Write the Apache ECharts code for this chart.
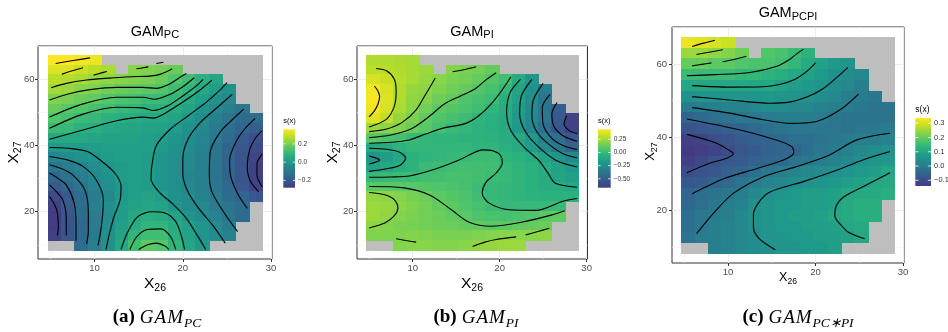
<!DOCTYPE html>
<html>
<head>
<meta charset="utf-8">
<title>GAM partial effects of X26 and X27</title>
<script src="https://cdn.jsdelivr.net/npm/echarts@6.0.0/dist/echarts.min.js"></script>
<style>
  html, body { margin: 0; padding: 0; background: #fff; }
  #chart { width: 948px; height: 332px; }
</style>
</head>
<body>
<div id="chart"></div>
<script>
const _ = null

// centres of the sampled grid (data units)
const x26Cells = [5.50, 7.02, 8.54, 10.06, 11.58, 13.09, 14.61, 16.13, 17.65, 19.17, 20.69, 22.21, 23.73, 25.25, 26.77, 28.28]
// top row first
const x27Cells = [65.83, 62.88, 59.93, 56.98, 54.03, 51.08, 48.13, 45.18, 42.23, 39.28, 36.33, 33.38, 30.43, 27.48, 24.53, 21.58, 18.63, 15.68, 12.73, 9.78]

// s(x) x 100, rows top to bottom, null = no data (grey)
const sPC = [
  [36, 36, 35, 34, _, _, _, _, _, _, _, _, _, _, _, _],
  [32, 32, 30, 28, 26, _, 22, 21, 20, 18, _, _, _, _, _, _],
  [28, 27, 26, 24, 23, 22, 21, 20, 18, 15, 12, 8, 4, _, _, _],
  [25, 24, 22, 21, 19, 18, 17, 16, 15, 12, 9, 5, 1, -2, _, _],
  [21, 20, 18, 17, 15, 14, 13, 11, 11, 9, 6, 2, -2, -5, _, _],
  [18, 16, 15, 13, 12, 10, 9, 8, 8, 6, 3, -1, -5, -8, -11, _],
  [15, 13, 11, 10, 8, 7, 6, 5, 5, 3, 0, -4, -8, -11, -14, -14],
  [11, 10, 8, 7, 5, 4, 4, 3, 3, 1, -2, -5, -9, -13, -16, -18],
  [5, 5, 5, 4, 3, 3, 3, 2, 1, -1, -3, -6, -10, -14, -19, -22],
  [0, 1, 1, 1, 2, 2, 2, 2, 0, -2, -4, -7, -11, -16, -20, -24],
  [-6, -4, -2, -1, 1, 2, 2, 1, -1, -3, -5, -8, -12, -16, -21, -25],
  [-11, -9, -6, -4, -1, 1, 2, 1, -1, -3, -5, -8, -12, -16, -21, -26],
  [-15, -12, -9, -5, -2, 1, 2, 1, -1, -3, -6, -8, -12, -16, -21, -26],
  [-19, -15, -11, -7, -3, 0, 2, 1, -1, -3, -5, -8, -11, -15, -20, -25],
  [-24, -19, -14, -9, -5, 0, 2, 3, 1, -2, -4, -7, -10, -14, -16, -20],
  [-26, -19, -14, -8, -3, 1, 3, 4, 3, -1, -4, -5, -9, -12, -14, _],
  [-27, -21, -14, -9, -4, 1, 5, 7, 6, 3, -1, -4, -7, -11, -14, _],
  [-27, -21, -15, -9, -4, 2, 6, 9, 9, 6, 2, -1, -5, -9, _, _],
  [-26, -21, -15, -9, -2, 3, 9, 12, 12, 7, 3, -1, -4, -7, _, _],
  [_, _, -14, -8, -2, 5, 12, 16, 15, 9, 4, 0, _, _, _, _]
]

const sPI = [
  [28, 28, 27, 26, _, _, _, _, _, _, _, _, _, _, _, _],
  [30, 30, 28, 26, 24, _, 19, 17, 15, 12, _, _, _, _, _, _],
  [36, 33, 29, 26, 23, 20, 17, 15, 12, 8, 3, -8, -20, _, _, _],
  [42, 36, 28, 23, 21, 18, 15, 12, 8, 4, -2, -12, -22, -32, _, _],
  [43, 37, 28, 22, 19, 14, 11, 7, 4, 1, -7, -15, -25, -38, _, _],
  [41, 36, 27, 20, 15, 10, 8, 5, 2, -3, -8, -16, -26, -38, -50, _],
  [38, 32, 23, 17, 11, 7, 4, 1, -3, -6, -9, -17, -27, -37, -52, -63],
  [24, 21, 18, 13, 9, 4, -1, -2, -4, -6, -9, -18, -28, -42, -53, -63],
  [9, 6, 4, 0, -2, -3, -3, -4, -4, -5, -7, -9, -19, -32, -42, -52],
  [-9, -7, -4, -2, -2, -2, -2, -2, -3, -3, -6, -9, -16, -26, -36, -48],
  [-20, -16, -11, -5, -3, -2, -1, 0, 1, 1, -3, -5, -8, -13, -20, -27],
  [-14, -11, -7, -4, 0, 1, 2, 3, 3, 2, -1, -3, -5, -8, -13, -19],
  [-1, 0, 1, 1, 2, 3, 4, 4, 3, 1, -1, -3, -5, -8, -12, -15],
  [9, 9, 9, 9, 8, 7, 6, 4, 1, -1, -2, -3, -5, -7, -8, -10],
  [22, 21, 19, 16, 13, 10, 8, 6, 2, -1, -2, -3, -4, -5, -5, -5],
  [24, 23, 21, 18, 15, 12, 10, 7, 4, 1, -1, -1, -1, -1, 0, _],
  [24, 22, 19, 17, 15, 13, 11, 9, 6, 5, 4, 6, 7, 9, 11, _],
  [21, 19, 17, 16, 15, 14, 13, 12, 11, 10, 10, 11, 12, 13, _, _],
  [18, 18, 18, 19, 18, 17, 17, 17, 18, 19, 20, 20, 20, 21, _, _],
  [_, _, 19, 20, 20, 19, 19, 20, 22, 23, 24, 24, _, _, _, _]
]

const sPCPI = [
  [32, 31, 30, 29, _, _, _, _, _, _, _, _, _, _, _, _],
  [25, 25, 24, 23, 21, _, 18, 17, 15, 13, _, _, _, _, _, _],
  [20, 20, 19, 19, 18, 17, 17, 16, 14, 11, 9, 7, 6, _, _, _],
  [15, 15, 15, 15, 14, 14, 13, 12, 10, 9, 7, 5, 4, 3, _, _],
  [10, 10, 10, 10, 10, 10, 10, 9, 8, 7, 6, 4, 3, 1, _, _],
  [5, 6, 6, 6, 6, 6, 7, 6, 6, 5, 4, 3, 1, 0, -1, _],
  [0, 1, 1, 2, 2, 3, 4, 4, 3, 3, 2, 1, 0, -1, -2, -2],
  [-5, -4, -3, -2, -1, -1, 0, 1, 1, 1, 0, -1, -2, -2, -2, -2],
  [-9, -8, -7, -6, -5, -4, -3, -2, -1, -1, -1, -1, -2, -1, -1, 0],
  [-13, -12, -10, -9, -7, -6, -5, -4, -3, -3, -2, -1, 0, 1, 1, 2],
  [-14, -13, -12, -10, -8, -7, -6, -5, -5, -3, -1, 0, 2, 3, 4, 5],
  [-13, -11, -9, -8, -7, -6, -5, -4, -2, -1, 0, 2, 3, 5, 6, 7],
  [-10, -9, -8, -6, -5, -3, -1, 1, 2, 3, 4, 5, 6, 7, 8, 10],
  [-8, -7, -5, -4, -2, 0, 2, 3, 4, 5, 6, 7, 8, 9, 10, 11],
  [-5, -3, -2, -1, 1, 3, 5, 6, 7, 8, 8, 9, 10, 11, 11, 12],
  [-4, -3, -1, 1, 2, 5, 6, 7, 7, 8, 8, 9, 11, 12, 12, _],
  [-3, -1, 0, 1, 3, 5, 6, 7, 8, 8, 9, 10, 11, 12, 12, _],
  [-3, -1, 1, 2, 3, 5, 6, 7, 7, 8, 8, 9, 10, 11, _, _],
  [-2, 0, 1, 2, 3, 4, 6, 6, 7, 7, 8, 8, 9, 10, _, _],
  [_, _, 1, 2, 3, 4, 5, 6, 6, 7, 7, 8, _, _, _, _]
]

// contour lines, [x26, x27] points
const contPC = [
  [[5.6, 64.8], [7.6, 65.7], [9.5, 66.5]],
  [[6.3, 61.6], [7.5, 62.6], [8.7, 63.5]],
  [[9.9, 61.3], [10.7, 61.9], [11.4, 62.4]],
  [[14.75, 63.2], [15.5, 63.5], [16.1, 63.8]],
  [[17.0, 64.8], [17.8, 65.2]],
  [[5.1, 57.5], [6.8, 58.8], [9.1, 59.8], [11.7, 60.4], [14.3, 60.8], [16.2, 61.0], [17.5, 61.6], [18.8, 63.2]],
  [[4.9, 53.8], [7.0, 55.6], [9.5, 56.9], [12.5, 57.6], [15.5, 57.6], [17.0, 57.3], [18.5, 58.6], [19.6, 60.5], [20.4, 61.8]],
  [[4.9, 48.6], [8.7, 52.6], [12.5, 54.6], [15.5, 54.6], [16.8, 54.0], [18.5, 55.4], [20.0, 57.8], [21.3, 60.5]],
  [[4.9, 45.2], [8.7, 49.5], [12.5, 51.6], [15.5, 51.4], [16.7, 50.6], [18.3, 52.0], [20.0, 55.0], [21.6, 58.2], [22.3, 60.0]],
  [[4.9, 41.9], [8.7, 44.7], [12.5, 47.5], [15.5, 48.6], [16.65, 48.3], [18.0, 49.8], [19.8, 52.8], [21.8, 56.5], [23.3, 59.8]],
  [[22.6, 8.6], [21.6, 13.0], [20.4, 18.0], [18.8, 22.5], [17.3, 26.0], [16.4, 30.0], [16.5, 34.0], [17.0, 40.0], [18.6, 45.0], [20.6, 49.0], [22.6, 53.0], [24.3, 57.0], [25.0, 59.0]],
  [[24.8, 10.5], [23.5, 15.5], [21.8, 21.0], [20.5, 26.5], [20.0, 31.5], [20.0, 36.0], [20.6, 42.0], [22.0, 47.0], [23.9, 51.5], [25.6, 55.5]],
  [[26.2, 14.0], [24.6, 20.0], [23.3, 26.0], [23.0, 31.0], [23.1, 38.0], [24.2, 44.0], [25.6, 47.8], [26.9, 51.0]],
  [[27.3, 21.0], [26.2, 25.5], [25.4, 31.0], [25.3, 35.5], [26.0, 41.0], [27.0, 45.0], [28.2, 48.2]],
  [[28.6, 26.0], [27.6, 29.5], [27.3, 34.0], [27.6, 39.0], [28.3, 42.5], [29.0, 44.5]],
  [[29.0, 27.5], [28.4, 31.0], [28.4, 34.5], [29.0, 37.5]],
  [[4.9, 39.4], [7.0, 39.2], [9.2, 38.2], [10.6, 35.7], [12.3, 31.7], [13.0, 27.6], [12.9, 23.6], [12.1, 17.6], [11.3, 8.6]],
  [[4.9, 36.7], [7.0, 35.6], [8.7, 33.7], [10.2, 29.6], [11.0, 23.6], [10.8, 16.0], [10.4, 9.8]],
  [[4.9, 34.2], [6.3, 33.0], [7.5, 31.2], [8.9, 26.6], [9.3, 20.0], [9.3, 14.0], [9.1, 10.2]],
  [[4.9, 31.7], [5.9, 30.0], [6.8, 28.1], [7.7, 22.6], [7.9, 16.0], [7.9, 11.2]],
  [[4.9, 28.1], [5.7, 26.0], [6.4, 23.6], [6.8, 18.0], [6.8, 12.8]],
  [[4.9, 24.6], [5.5, 22.0], [5.8, 19.6], [5.9, 15.5], [5.8, 12.8]],
  [[13.0, 8.6], [13.7, 13.5], [14.9, 18.5], [16.5, 20.0], [18.0, 19.6], [19.2, 17.0], [19.8, 13.0], [20.2, 8.6]],
  [[14.0, 8.6], [14.8, 12.5], [16.0, 14.6], [17.5, 14.8], [18.6, 12.5], [19.2, 8.6]],
  [[15.0, 8.6], [16.0, 10.0], [17.0, 10.5], [18.0, 9.6], [18.4, 8.6]]
]

const contPI = [
  [[5.6, 58.0], [6.0, 56.5], [6.2, 54.8], [6.0, 52.5], [5.6, 50.5], [5.0, 48.7]],
  [[5.8, 63.3], [7.0, 62.6], [7.9, 60.0], [8.1, 56.5], [7.9, 52.0], [7.0, 48.0], [5.0, 45.6]],
  [[5.0, 44.2], [7.0, 45.0], [8.8, 47.0], [10.4, 50.8], [11.5, 55.5], [12.6, 60.4]],
  [[5.0, 42.4], [7.5, 43.2], [9.8, 45.0], [12.0, 49.0], [13.6, 52.5], [15.5, 55.0], [17.2, 57.2], [18.5, 60.0], [19.6, 62.0]],
  [[5.0, 40.7], [7.5, 41.0], [9.6, 41.7], [11.5, 43.5], [13.4, 45.2], [16.1, 46.7], [17.6, 49.0], [19.0, 52.5], [20.2, 56.5], [21.3, 60.8]],
  [[14.6, 62.3], [16.0, 63.0], [17.3, 63.8]],
  [[5.0, 39.2], [7.0, 38.9], [8.5, 38.0], [9.2, 36.2], [8.5, 34.0], [7.0, 33.0], [5.0, 32.2]],
  [[5.0, 36.8], [5.8, 36.2], [6.2, 35.6], [5.8, 35.0], [5.0, 34.4]],
  [[5.0, 30.4], [7.5, 30.5], [9.6, 30.8], [12.7, 33.0], [15.4, 35.7], [16.9, 37.7], [18.0, 38.7], [19.2, 38.4], [20.1, 37.0], [20.3, 34.7], [19.6, 31.7], [18.4, 28.8], [18.0, 25.6], [18.8, 22.6], [21.1, 20.6], [24.2, 20.4], [27.2, 23.1], [28.9, 24.0]],
  [[5.0, 27.6], [9.0, 27.2], [12.0, 25.0], [14.5, 20.5], [16.5, 16.8], [19.0, 15.6], [22.5, 16.8], [26.1, 19.1], [27.5, 20.3]],
  [[5.0, 25.8], [6.8, 25.1], [7.9, 23.6], [8.3, 21.1], [7.9, 18.8], [6.8, 16.6], [5.0, 15.1]],
  [[16.9, 9.5], [18.3, 10.8], [19.6, 11.6], [21.9, 12.4]],
  [[23.0, 13.0], [24.4, 14.0], [25.7, 15.0]],
  [[8.1, 11.8], [9.2, 11.3], [10.4, 10.8]],
  [[22.4, 60.0], [21.2, 56.0], [20.8, 50.0], [21.3, 44.5], [22.8, 39.5], [24.5, 35.5], [25.6, 31.5], [26.4, 28.6], [28.9, 27.4]],
  [[23.7, 60.0], [22.5, 55.0], [22.3, 49.5], [23.0, 44.0], [24.5, 39.5], [26.5, 35.5], [28.9, 33.5]],
  [[25.0, 58.8], [23.9, 54.0], [23.7, 49.0], [24.3, 44.0], [25.6, 40.5], [27.3, 37.5], [28.9, 36.3]],
  [[25.8, 55.5], [24.9, 51.5], [25.0, 46.5], [25.9, 42.5], [27.3, 40.0], [28.9, 38.8]],
  [[26.6, 53.0], [26.0, 49.5], [26.3, 45.5], [27.4, 42.8], [28.9, 41.3]],
  [[27.7, 49.0], [27.4, 46.5], [28.0, 44.5], [28.9, 43.6]]
]

const contPCPI = [
  [[5.9, 64.8], [7.2, 65.7], [8.5, 66.5]],
  [[6.4, 62.6], [8.0, 63.3], [9.4, 63.9]],
  [[5.9, 59.5], [7.0, 59.9], [8.1, 60.3]],
  [[9.4, 60.6], [10.8, 61.3], [12.1, 62.1]],
  [[5.3, 56.8], [8.5, 57.1], [12.5, 57.7], [15.5, 59.3], [17.0, 61.2], [17.8, 62.7], [18.6, 64.0]],
  [[5.9, 54.1], [10.2, 53.7], [14.0, 53.8], [16.0, 54.5], [17.6, 55.8], [19.0, 58.0], [20.0, 60.3]],
  [[5.9, 51.1], [10.2, 50.2], [14.8, 49.3], [17.0, 49.6], [19.0, 51.0], [20.8, 53.2], [22.5, 56.5], [23.7, 59.1]],
  [[5.9, 48.1], [10.2, 46.6], [14.0, 44.8], [17.1, 43.8], [20.1, 44.3], [22.8, 47.5], [24.9, 51.8]],
  [[5.3, 45.0], [11.4, 42.0], [15.6, 39.2], [17.3, 37.4], [17.5, 35.8], [16.4, 33.9], [13.3, 31.5], [9.5, 28.7], [5.9, 24.6]],
  [[5.3, 40.8], [8.7, 38.4], [10.3, 36.2], [10.6, 35.6], [9.85, 34.3], [7.9, 32.9], [5.3, 30.3]],
  [[6.4, 13.7], [8.3, 19.2], [10.6, 24.7], [14.0, 29.2], [17.8, 32.0], [21.6, 35.2], [24.7, 39.3], [28.5, 41.1]],
  [[15.4, 9.3], [13.5, 12.5], [12.9, 15.5], [12.9, 19.0], [13.6, 22.5], [14.8, 25.1], [18.6, 27.9], [22.4, 31.0], [25.4, 33.8], [28.5, 36.1]],
  [[25.6, 12.3], [23.8, 14.0], [23.0, 15.8], [22.2, 18.5], [22.4, 21.5], [23.2, 23.7], [25.4, 26.5], [28.5, 30.3]]
]

// colour-bar ranges (s(x) x 100) and their ticks
const rangePC = [-28, 36]
const rangePI = [-67, 44]
const rangePCPI = [-14, 33.7]
const ticksPC = [-0.2, 0, 0.2]
const labelsPC = ['\u22120.2', '0.0', '0.2']
const ticksPI = [-0.5, -0.25, 0, 0.25]
const labelsPI = ['\u22120.50', '\u22120.25', '0.00', '0.25']
const ticksPCPI = [-0.1, 0, 0.1, 0.2, 0.3]
const labelsPCPI = ['\u22120.1', '0.0', '0.1', '0.2', '0.3']

const VIRIDIS = ['#443A83', '#3A548C', '#2E6D8E', '#26838E', '#1F9A8A', '#2AB07F', '#4FC46A', '#84D44B', '#C2DF23', '#FDE725']
const SANS = "'Liberation Sans', Arial, sans-serif"
const SERIF = "'Liberation Serif', 'Times New Roman', serif"
const CELL_W = 1.52
const CELL_H = 2.95

const panels = [
  {
    values: sPC, lines: contPC, range: rangePC, ticks: ticksPC, tickLabels: labelsPC,
    grid: { left: 38, top: 46, width: 234, height: 213 },
    bar: { x: 283.3, y: 129.3, w: 11.7, h: 58.4, font: 6.5, titleFont: 7.5, titleY: 125 },
    title: { x: 155, y: 36.5, sub: 'PC' },
    xName: { x: 155, y: 289, size: 15.5, sub: 10.5 },
    yName: { x: 19, y: 152.5, size: 15.5, sub: 10.5 },
    tickFont: 9.5, yMargin: 3.5, caption: { x: 157, label: '(a)', sub: 'PC' }
  },
  {
    values: sPI, lines: contPI, range: rangePI, ticks: ticksPI, tickLabels: labelsPI,
    grid: { left: 357, top: 46, width: 230.5, height: 213 },
    bar: { x: 598, y: 129.3, w: 12.7, h: 58.4, font: 6.5, titleFont: 7.5, titleY: 125 },
    title: { x: 472, y: 36.5, sub: 'PI' },
    xName: { x: 472, y: 289, size: 15.5, sub: 10.5 },
    yName: { x: 338, y: 152.5, size: 15.5, sub: 10.5 },
    tickFont: 9.5, yMargin: 3.5, caption: { x: 476, label: '(b)', sub: 'PI' }
  },
  {
    values: sPCPI, lines: contPCPI, range: rangePCPI, ticks: ticksPCPI, tickLabels: labelsPCPI,
    grid: { left: 672, top: 27, width: 232, height: 236 },
    bar: { x: 915.3, y: 118, w: 15.7, h: 68, font: 7.5, titleFont: 8.5, titleY: 114 },
    title: { x: 788, y: 18, sub: 'PCPI' },
    xName: { x: 788, y: 281.5, size: 12.5, sub: 8.5 },
    yName: { x: 655, y: 151.5, size: 13, sub: 9 },
    tickFont: 9.5, yMargin: 5, caption: { x: 798, label: '(c)', sub: 'PC\u2217PI' }
  }
]

const measureCtx = document.createElement('canvas').getContext('2d')
function fontOf(p) {
  return (p.italic ? 'italic ' : '') + (p.bold ? 'bold ' : '') + p.size + 'px ' + (p.family || SANS)
}
// a run of text pieces (main + subscript), centred on x, baseline at y
function textRun(parts, x, y, rotation) {
  const widths = parts.map(p => { measureCtx.font = fontOf(p); return measureCtx.measureText(p.text).width })
  const total = widths.reduce((a, b) => a + b, 0) + parts.reduce((a, p) => a + (p.gap || 0), 0)
  let cx = -total / 2
  const children = parts.map((p, k) => {
    cx += p.gap || 0
    const el = {
      type: 'text', x: cx, y: (p.dy || 0) - 0.34 * p.size,
      style: { text: p.text, font: fontOf(p), fill: p.color || '#000', align: 'left', verticalAlign: 'middle' }
    }
    cx += widths[k]
    return el
  })
  return { type: 'group', x: x, y: y, rotation: rotation || 0, children: children, silent: true }
}

function cellRenderer(fixedFill) {
  return function (params, api) {
    const x = api.value(0), y = api.value(1)
    const p0 = api.coord([x - CELL_W / 2, y + CELL_H / 2])
    const p1 = api.coord([x + CELL_W / 2, y - CELL_H / 2])
    const x0 = Math.floor(p0[0]), y0 = Math.floor(p0[1])
    return {
      type: 'rect',
      shape: { x: x0, y: y0, width: Math.ceil(p1[0]) - x0, height: Math.ceil(p1[1]) - y0 },
      style: { fill: fixedFill || api.visual('color') }
    }
  }
}

const grids = [], xAxes = [], yAxes = [], series = [], visualMaps = [], graphics = []

panels.forEach((p, i) => {
  grids.push(Object.assign({ show: true, borderColor: '#333333', borderWidth: 1, backgroundColor: '#fff', containLabel: false, outerBoundsMode: 'none' }, p.grid))
  const labelStyle = { color: '#4D4D4D', fontSize: p.tickFont, fontFamily: SANS }
  xAxes.push({
    gridIndex: i, type: 'value', min: 3.6, max: 30.1,
    axisLine: { show: false },
    axisTick: { show: true, length: 3, customValues: [10, 20, 30], lineStyle: { color: '#333333' } },
    axisLabel: Object.assign({ customValues: [10, 20, 30], margin: 4 }, labelStyle),
    splitLine: { show: true, lineStyle: { color: '#EBEBEB', width: 1 } }
  }, {
    gridIndex: i, type: 'value', min: 3.6, max: 30.1,
    axisLine: { show: false }, axisLabel: { show: false },
    axisTick: { show: false, customValues: [5, 15, 25] },
    splitLine: { show: true, lineStyle: { color: '#F3F3F3', width: 0.7 } }
  })
  yAxes.push({
    gridIndex: i, type: 'value', min: 5.7, max: 70.1,
    axisLine: { show: false },
    axisTick: { show: true, length: 3, customValues: [20, 40, 60], lineStyle: { color: '#333333' } },
    axisLabel: Object.assign({ customValues: [20, 40, 60], margin: p.yMargin }, labelStyle),
    splitLine: { show: true, lineStyle: { color: '#EBEBEB', width: 1 } }
  }, {
    gridIndex: i, type: 'value', min: 5.7, max: 70.1,
    axisLine: { show: false }, axisLabel: { show: false },
    axisTick: { show: false, customValues: [10, 30, 50, 70] },
    splitLine: { show: true, lineStyle: { color: '#F3F3F3', width: 0.7 } }
  })

  const grey = [], filled = []
  p.values.forEach((row, r) => row.forEach((v, c) => {
    if (v === null) grey.push([x26Cells[c], x27Cells[r]])
    else filled.push([x26Cells[c], x27Cells[r], v])
  }))
  const ax = 2 * i
  series.push({
    type: 'custom', xAxisIndex: ax, yAxisIndex: ax, data: grey, encode: { x: 0, y: 1 },
    renderItem: cellRenderer('#BEBEBE'), silent: true, animation: false, z: 1
  })
  visualMaps.push({
    type: 'continuous', show: false, seriesIndex: series.length, dimension: 2,
    min: p.range[0], max: p.range[1], inRange: { color: VIRIDIS }
  })
  series.push({
    type: 'custom', xAxisIndex: ax, yAxisIndex: ax, data: filled, encode: { x: 0, y: 1 },
    renderItem: cellRenderer(null), silent: true, animation: false, z: 2
  })
  p.lines.forEach(line => series.push({
    type: 'line', xAxisIndex: ax, yAxisIndex: ax, data: line, smooth: 0.3,
    symbol: 'none', lineStyle: { color: '#000', width: 1.1 }, silent: true, animation: false, z: 3
  }))

  // panel title, axis titles
  graphics.push(textRun([{ text: 'GAM', size: 14.5 }, { text: p.title.sub, size: 11, dy: 2.6 }], p.title.x, p.title.y))
  graphics.push(textRun([{ text: 'X', size: p.xName.size }, { text: '26', size: p.xName.sub, dy: 3 }], p.xName.x, p.xName.y))
  graphics.push(textRun([{ text: 'X', size: p.yName.size }, { text: '27', size: p.yName.sub, dy: 3 }], p.yName.x, p.yName.y, Math.PI / 2))

  // colour bar
  const b = p.bar
  graphics.push({
    type: 'text', x: b.x, y: b.titleY, silent: true,
    style: { text: 's(x)', font: b.titleFont + 'px ' + SANS, fill: '#000', align: 'left', verticalAlign: 'bottom' }
  })
  graphics.push({
    type: 'rect', silent: true, shape: { x: b.x, y: b.y, width: b.w, height: b.h },
    style: { fill: { type: 'linear', x: 0, y: 1, x2: 0, y2: 0, colorStops: VIRIDIS.map((c, k) => ({ offset: k / (VIRIDIS.length - 1), color: c })) } }
  })
  p.ticks.forEach((t, k) => {
    const ty = b.y + b.h - (t * 100 - p.range[0]) / (p.range[1] - p.range[0]) * b.h
    graphics.push({ type: 'line', silent: true, shape: { x1: b.x, y1: ty, x2: b.x + b.w * 0.2, y2: ty }, style: { stroke: '#fff', lineWidth: 0.8 } })
    graphics.push({ type: 'line', silent: true, shape: { x1: b.x + b.w * 0.8, y1: ty, x2: b.x + b.w, y2: ty }, style: { stroke: '#fff', lineWidth: 0.8 } })
    graphics.push({
      type: 'text', x: b.x + b.w + 3, y: ty, silent: true,
      style: { text: p.tickLabels[k], font: b.font + 'px ' + SANS, fill: '#333', align: 'left', verticalAlign: 'middle' }
    })
  })

  // sub-figure caption, math-italic GAM spaced letter by letter
  graphics.push(textRun([
    { text: p.caption.label, size: 19, bold: true, family: SERIF },
    { text: 'G', size: 19, italic: true, family: SERIF, gap: 5 },
    { text: 'A', size: 19, italic: true, family: SERIF, gap: 1 },
    { text: 'M', size: 19, italic: true, family: SERIF, gap: 1 },
    { text: p.caption.sub, size: 13.5, italic: true, family: SERIF, dy: 4, gap: 1 }
  ], p.caption.x, 324))
})

const chart = echarts.init(document.getElementById('chart'), null, { renderer: 'canvas' })
chart.setOption({
  backgroundColor: '#fff',
  animation: false,
  grid: grids,
  xAxis: xAxes,
  yAxis: yAxes,
  visualMap: visualMaps,
  series: series,
  graphic: { elements: graphics }
})
</script>
</body>
</html>
